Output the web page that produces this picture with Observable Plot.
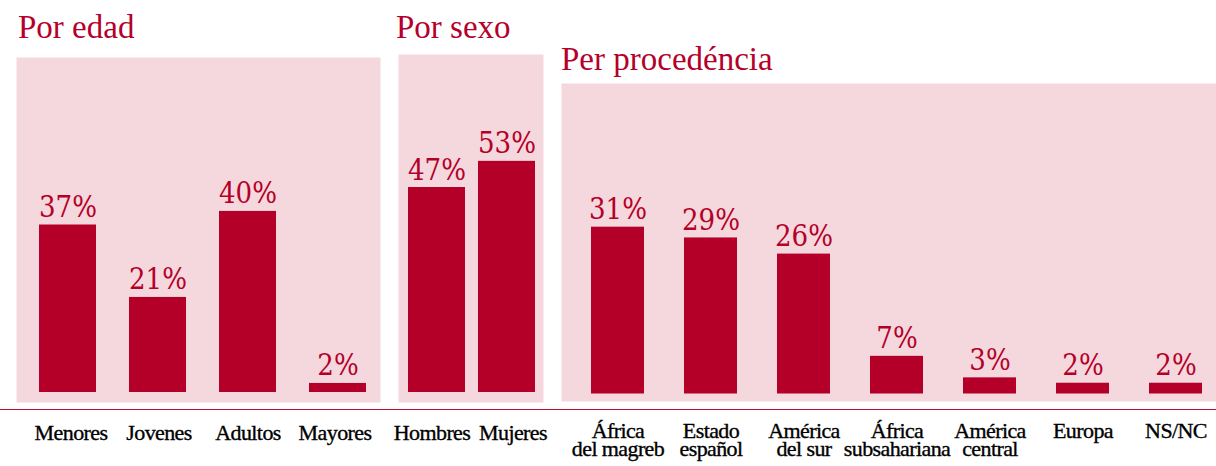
<!DOCTYPE html>
<html><head><meta charset="utf-8">
<script src="https://cdn.jsdelivr.net/npm/d3@7"></script>
<script src="https://cdn.jsdelivr.net/npm/@observablehq/plot@0.6"></script>
<style>
html,body{margin:0;padding:0;background:#fff;}
#chart{position:relative;width:1216px;height:466px;overflow:hidden;font-family:"Liberation Serif",serif;}
.panel{position:absolute;top:0;}
.panel svg{overflow:visible;}
.panel svg g[aria-label="x-axis tick label"] text{letter-spacing:-0.6px;stroke:#000;stroke-width:0.35px;}
.title{position:absolute;color:#b5002b;font-size:33px;line-height:33px;white-space:nowrap;font-family:"Liberation Serif",serif;}
.rule{position:absolute;left:0;width:1216px;top:409px;height:0;border-top:1.5px solid #c00a32;}
</style></head><body>
<div id="chart"></div>
<script>
// ---- data ----
const edadCategories = ["Menores", "Jovenes", "Adultos", "Mayores"];
const edadValues = [37, 21, 40, 2];
const sexoCategories = ["Hombres", "Mujeres"];
const sexoValues = [47, 53];
const procedenciaCategories = ["África\ndel magreb", "Estado\nespañol", "América\ndel sur", "África\nsubsahariana", "América\ncentral", "Europa", "NS/NC"];
const procedenciaValues = [31, 29, 26, 7, 3, 2, 2];
const titles = ["Por edad", "Por sexo", "Per procedéncia"];

const RED = "#b40028";
const PINK = "#f5d8de";
const H = 466;

function panel(cfg) {
  const data = cfg.categories.map((c, i) => ({c, v: cfg.values[i]}));
  const axisOpts = {tickSize: 0, tickPadding: cfg.labelPad, fontSize: 22, lineHeight: 0.8, color: "#000", label: null};
  const axes = cfg.labelDx
    ? cfg.categories.map((c, i) => Plot.axisX({...axisOpts, ticks: [c], dx: cfg.labelDx[i]}))
    : [Plot.axisX(axisOpts)];
  return Plot.plot({
    width: cfg.width,
    height: H,
    marginTop: cfg.top,
    marginBottom: H - cfg.base,
    marginLeft: cfg.ml,
    marginRight: cfg.mr,
    x: {domain: cfg.categories, paddingInner: cfg.pad, paddingOuter: 0, label: null},
    y: {domain: [0, cfg.yMax], axis: null, label: null},
    style: {fontFamily: '"Liberation Serif", serif', background: "transparent", color: "#000"},
    marks: [
      Plot.frame({fill: PINK, stroke: "none", insetLeft: -cfg.ml, insetRight: -cfg.mr, insetBottom: -cfg.extend}),
      Plot.barY(data, {x: "c", y: "v", fill: RED}),
      Plot.text(data, {x: "c", y: "v", text: d => d.v + "%", dy: -8, lineAnchor: "bottom", fill: RED,
        fontSize: 29, fontFamily: '"DejaVu Serif Condensed", "DejaVu Serif", serif'}),
      ...axes
    ]
  });
}

const chart = document.getElementById("chart");
const panels = [
  {left: 16, categories: edadCategories, values: edadValues, width: 364, top: 57, base: 392, ml: 22, mr: 14, pad: 0.37, yMax: 74, extend: 10, labelPad: 35, labelDx: [3, 1, 0, -3]},
  {left: 398, categories: sexoCategories, values: sexoValues, width: 145, top: 54, base: 392, ml: 10, mr: 8, pad: 0.186, yMax: 77.5, extend: 10, labelPad: 35, labelDx: [-5, 6]},
  {left: 561, categories: procedenciaCategories, values: procedenciaValues, width: 655, top: 83, base: 393.5, ml: 27, mr: 10, pad: 0.4255, yMax: 57.7, extend: 7.5, labelPad: 31.5}
];
panels.forEach(p => {
  const div = document.createElement("div");
  div.className = "panel";
  div.style.left = p.left + "px";
  div.appendChild(panel(p));
  chart.appendChild(div);
});
const rule = document.createElement("div");
rule.className = "rule";
chart.appendChild(rule);
const titlePos = [[18, 10.5], [396, 10.5], [561, 42.5]];
titles.forEach((t, i) => {
  const d = document.createElement("div");
  d.className = "title";
  d.textContent = t;
  d.style.left = titlePos[i][0] + "px";
  d.style.top = titlePos[i][1] + "px";
  chart.appendChild(d);
});
</script>
</body></html>
